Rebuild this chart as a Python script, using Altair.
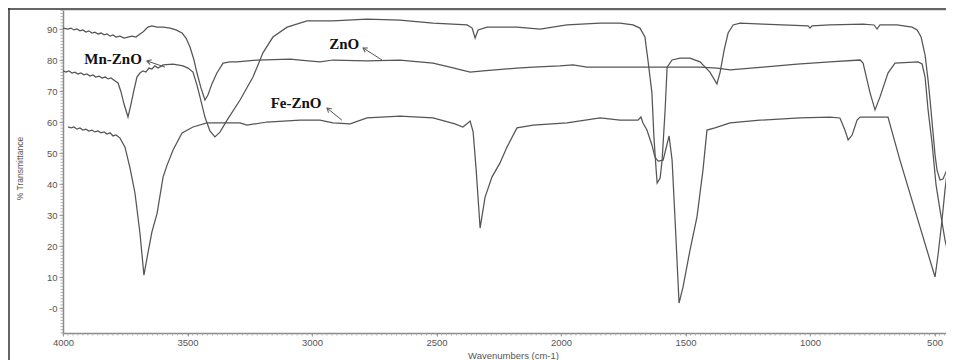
import altair as alt
import pandas as pd

# ---------------- data ----------------
WN_ZNO = [4000, 3980, 3968, 3956, 3944, 3932, 3920, 3908, 3896, 3884, 3872, 3859, 3847, 3835, 3823, 3811,
          3799, 3787, 3771, 3755, 3739, 3723, 3707, 3691, 3679, 3667, 3659, 3643, 3622, 3598, 3570, 3546,
          3522, 3506, 3490, 3474, 3462, 3446, 3430, 3418, 3402, 3382, 3357, 3329, 3301, 3221, 3088, 3048,
          2968, 2916, 2779, 2647, 2514, 2446, 2365, 2313, 2177, 2112, 2004, 1952, 1896, 1843, 1643, 1442,
          1374, 1321, 1189, 1052, 920, 799, 787, 771, 759, 739, 719, 687, 659, 566, 550, 538, 526, 510,
          494, 478, 458, 426]
T_ZNO = [90.3, 90.0, 90.3, 89.7, 90.0, 89.4, 89.7, 89.0, 89.4, 88.7, 89.0, 88.4, 88.7, 88.1, 88.4, 87.7,
         88.1, 87.4, 87.7, 87.1, 87.4, 87.7, 87.4, 88.4, 89.0, 90.0, 90.6, 91.0, 90.6, 90.6, 90.3, 89.7,
         88.7, 87.1, 84.2, 80.0, 75.8, 71.0, 67.1, 68.7, 72.3, 75.8, 79.0, 79.4, 79.4, 80.0, 80.3, 80.0,
         79.4, 80.0, 79.7, 80.0, 79.0, 77.7, 76.1, 76.5, 77.4, 77.7, 78.1, 78.4, 77.7, 77.7, 77.7, 77.7,
         77.4, 76.8, 77.7, 78.7, 79.4, 80.0, 79.0, 73.5, 69.4, 63.9, 68.1, 75.8, 79.0, 79.4, 78.7, 74.5,
         63.9, 53.2, 39.7, 31.6, 21.9, 11.3]

WN_MN = [4000, 3988, 3976, 3964, 3952, 3940, 3928, 3916, 3904, 3892, 3880, 3868, 3855, 3843, 3831, 3819,
         3807, 3795, 3779, 3767, 3755, 3739, 3727, 3715, 3703, 3691, 3679, 3667, 3655, 3643, 3631, 3618,
         3598, 3558, 3518, 3498, 3478, 3462, 3450, 3430, 3410, 3390, 3369, 3341, 3289, 3237, 3197, 3157,
         3100, 3020, 2916, 2779, 2647, 2514, 2377, 2357, 2345, 2333, 2297, 2177, 2084, 1976, 1843, 1763,
         1711, 1683, 1663, 1651, 1635, 1627, 1618, 1614, 1602, 1594, 1582, 1574, 1554, 1522, 1482, 1442,
         1402, 1374, 1361, 1345, 1329, 1309, 1281, 1189, 1008, 1000, 992, 920, 787, 743, 731, 719, 651,
         590, 570, 554, 538, 526, 518, 506, 498, 490, 478, 466, 454, 438, 426]
T_MN = [76.5, 76.1, 76.5, 75.8, 76.1, 75.5, 75.8, 75.2, 75.5, 74.8, 75.2, 74.5, 74.8, 74.2, 74.5, 73.9,
        74.2, 73.5, 72.6, 69.7, 65.8, 61.6, 65.8, 70.3, 74.5, 75.8, 76.5, 76.1, 77.4, 77.1, 78.1, 77.4,
        78.4, 78.7, 78.1, 77.4, 76.1, 71.9, 68.1, 61.6, 57.1, 55.2, 56.8, 60.6, 67.1, 74.5, 82.3, 87.4,
        90.6, 92.6, 92.6, 93.2, 92.9, 91.9, 91.3, 90.3, 87.1, 89.7, 90.6, 90.6, 90.0, 91.3, 91.9, 91.9,
        91.3, 90.3, 87.4, 80.0, 69.4, 55.2, 44.5, 40.3, 41.9, 47.7, 63.9, 77.7, 80.0, 80.6, 80.6, 79.4,
        76.1, 72.3, 76.1, 83.2, 88.7, 91.3, 91.9, 91.6, 91.0, 90.3, 91.0, 91.3, 91.6, 91.3, 90.0, 91.3,
        91.3, 90.6, 89.7, 87.4, 81.6, 73.5, 67.1, 56.5, 49.4, 44.5, 41.3, 41.6, 43.9, 47.7, 51.0]

WN_FE = [3980, 3968, 3956, 3944, 3932, 3920, 3908, 3896, 3884, 3872, 3859, 3847, 3835, 3823, 3811, 3799,
         3787, 3771, 3751, 3731, 3711, 3691, 3675, 3659, 3643, 3622, 3598, 3582, 3558, 3522, 3478, 3422,
         3289, 3261, 3181, 3048, 2968, 2916, 2847, 2779, 2647, 2514, 2426, 2394, 2374, 2365, 2353, 2341,
         2325, 2305, 2277, 2245, 2217, 2177, 2112, 1976, 1843, 1763, 1691, 1679, 1671, 1655, 1635, 1623,
         1610, 1590, 1566, 1554, 1542, 1526, 1510, 1482, 1454, 1430, 1414, 1382, 1321, 1201, 1040, 920,
         880, 860, 847, 831, 811, 799, 687, 639, 498, 486, 470, 458, 446, 426]
T_FE = [58.4, 58.1, 58.4, 57.7, 58.1, 57.4, 57.7, 57.1, 57.4, 56.8, 57.1, 56.5, 56.8, 56.1, 56.5, 55.5,
        55.8, 54.8, 51.9, 45.2, 37.1, 24.2, 10.6, 17.7, 24.5, 30.6, 42.3, 46.1, 51.0, 56.5, 58.4, 59.7,
        59.7, 59.0, 60.0, 60.6, 60.6, 59.7, 59.4, 61.3, 61.9, 61.3, 59.4, 58.4, 59.7, 60.3, 56.8, 44.8,
        25.8, 35.8, 42.3, 46.8, 51.9, 58.1, 59.0, 59.7, 61.3, 60.6, 60.6, 61.6, 59.7, 57.4, 52.6, 48.7,
        47.4, 47.7, 55.5, 47.7, 28.4, 1.6, 6.8, 18.7, 29.4, 44.5, 57.4, 58.1, 59.7, 60.6, 61.3, 61.6,
        61.3, 57.4, 54.2, 55.8, 60.6, 61.6, 61.6, 47.7, 10.0, 17.1, 28.4, 38.1, 46.1, 54.2]

# labels: text, wavenumber, transmittance of the text centre
LABEL_TEXT = ["Mn-ZnO", "ZnO", "Fe-ZnO"]
LABEL_WN = [3799, 2871, 3064]
LABEL_T = [80.3, 85.2, 66.1]
# arrows: head (near label) -> tail (on curve)
ARROW_WN = [3663, 2795, 2940]
ARROW_T = [79.7, 83.9, 64.5]
ARROW_WN2 = [3590, 2719, 2880]
ARROW_T2 = [77.7, 80.0, 60.6]
ARROW_ANG = [18, 32, 39]

X_LABELS = [4000, 3500, 3000, 2500, 2000, 1500, 1000, 500]
Y_LABELS = [0, 10, 20, 30, 40, 50, 60, 70, 80, 90]
X_MINOR = list(range(460, 4001, 20))
Y_MINOR = list(range(-8, 97, 1))

# ---------------- tables ----------------
rows = []
for name, wns, ts in [("ZnO", WN_ZNO, T_ZNO), ("Mn-ZnO", WN_MN, T_MN), ("Fe-ZnO", WN_FE, T_FE)]:
    for i, (w, t) in enumerate(zip(wns, ts)):
        rows.append({"series": name, "i": i, "wn": w, "t": t})
spectra = pd.DataFrame(rows)
labels = pd.DataFrame({"text": LABEL_TEXT, "wn": LABEL_WN, "t": LABEL_T})
arrows = pd.DataFrame({"wn": ARROW_WN, "t": ARROW_T, "wn2": ARROW_WN2, "t2": ARROW_T2, "ang": ARROW_ANG})
xminor = pd.DataFrame({"wn": X_MINOR})
yminor = pd.DataFrame({"t": Y_MINOR})

W, H = 883, 323
xscale = alt.Scale(domain=[4000, 454], nice=False, zero=False)
yscale = alt.Scale(domain=[-8.06, 96.13], nice=False, zero=False)

lab_font = "Liberation Sans"
GREY_T = "#555555"
TICK_C = "#a0a0a0"
xaxis = alt.Axis(
    values=X_LABELS, format="d",
    labelOverlap=False, labelFlush=False,
    tickSize=3, tickColor=TICK_C, tickWidth=1,
    domainColor="#8a8a8a", domainWidth=1.5,
    labelFont=lab_font, labelFontSize=9.5, labelColor=GREY_T, labelPadding=1,
    title="Wavenumbers (cm-1)", titleFont=lab_font, titleFontSize=9.5, titleFontWeight="normal",
    titleColor=GREY_T, titleX=450, titleY=22, titleBaseline="middle", titleAlign="center",
    grid=False,
)
yaxis = alt.Axis(
    values=Y_LABELS,
    labelExpr="datum.value === 0 ? '-0' : format(datum.value, 'd')",
    labelOverlap=False, labelFlush=False,
    tickSize=4, tickColor=TICK_C, tickWidth=1,
    domainColor="#8a8a8a", domainWidth=1.5,
    labelFont=lab_font, labelFontSize=9.5, labelColor=GREY_T, labelPadding=2,
    title="% Transmittance", titleFont=lab_font, titleFontSize=8.5, titleFontWeight="normal",
    titleColor=GREY_T, titleX=-44, titleY=158, titleBaseline="middle", titleAlign="center", titleAngle=270,
    grid=False,
)


def X0(f):
    return alt.X(f, scale=xscale, axis=xaxis, title="Wavenumbers (cm-1)")


def Y0(f):
    return alt.Y(f, scale=yscale, axis=yaxis, title="% Transmittance")


lines = alt.Chart(spectra).mark_line(color="#555555", strokeWidth=1.25, clip=True).encode(
    x=X0("wn:Q"), y=Y0("t:Q"),
    detail="series:N",
    order=alt.Order("i:Q"),
)

xm = alt.Chart(xminor).mark_rule(color=TICK_C, strokeWidth=0.8).encode(
    x=X0("wn:Q"), y=alt.value(H), y2=alt.value(H + 2.5))
ym = alt.Chart(yminor).mark_rule(color=TICK_C, strokeWidth=0.8).encode(
    y=Y0("t:Q"), x=alt.value(0), x2=alt.value(-2.5))

text = alt.Chart(labels).mark_text(font="Liberation Serif", fontWeight="bold", fontSize=15,
                                   color="#111111", align="center", baseline="middle").encode(
    x=X0("wn:Q"), y=Y0("t:Q"), text="text:N")

shafts = alt.Chart(arrows).mark_rule(color="#555555", strokeWidth=1).encode(
    x=X0("wn:Q"), y=Y0("t:Q"), x2="wn2:Q", y2="t2:Q")

heads = alt.Chart(arrows).mark_point(shape="M 1.3 -0.8 L 0 0 L 1.3 0.8", filled=False, size=40,
                                     color="#555555", strokeWidth=1, opacity=1).encode(
    x=X0("wn:Q"), y=Y0("t:Q"), angle=alt.Angle("ang:Q", scale=None))

frame_top = alt.Chart(alt.Data(values=[{}])).mark_rule(color="#333333", strokeWidth=1.5).encode(
    x=alt.value(-55), x2=alt.value(W), y=alt.value(-1))
frame_left = alt.Chart(alt.Data(values=[{}])).mark_rule(color="#333333", strokeWidth=1.5).encode(
    x=alt.value(-54), y=alt.value(-2), y2=alt.value(H + 30))

chart = alt.layer(lines, xm, ym, shafts, heads, text, frame_top, frame_left).properties(
    width=W, height=H,
    autosize=alt.AutoSizeParams(type="none"),
    padding={"left": 55, "top": 2, "right": 0, "bottom": 27},
).configure_view(stroke=None).configure(background="white")

chart.save("out.html", embed_options={"renderer": "svg", "actions": False})
